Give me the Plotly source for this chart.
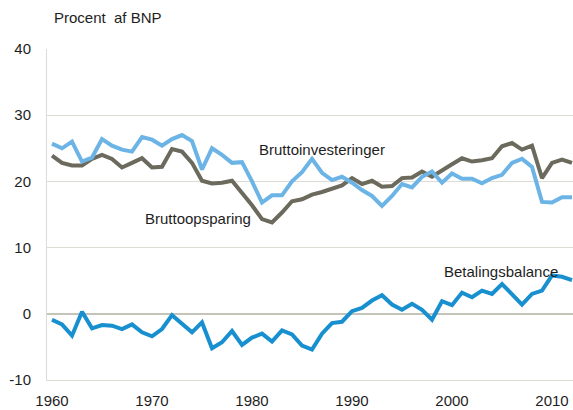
import plotly.graph_objects as go

years = list(range(1960, 2013))

bruttoinvesteringer = [
    25.7, 25.0, 26.0, 23.0, 23.6, 26.4, 25.4, 24.8, 24.5, 26.7,
    26.3, 25.4, 26.4, 27.0, 26.1, 21.8, 25.0, 24.0, 22.8, 22.9,
    20.0, 16.8, 17.9, 17.9, 20.0, 21.4, 23.4, 21.3, 20.2, 20.7,
    19.8, 18.7, 17.8, 16.3, 17.8, 19.6, 19.1, 20.7, 21.5, 19.8,
    21.2, 20.4, 20.4, 19.7, 20.5, 21.0, 22.8, 23.4, 22.2, 16.9,
    16.8, 17.6, 17.6,
]

bruttoopsparing = [
    23.9, 22.8, 22.4, 22.4, 23.4, 24.0, 23.4, 22.1, 22.8, 23.5,
    22.1, 22.2, 24.9, 24.5, 22.8, 20.1, 19.7, 19.8, 20.1, 18.3,
    16.4, 14.3, 13.8, 15.3, 17.0, 17.3, 18.0, 18.4, 18.9, 19.4,
    20.5, 19.6, 20.1, 19.2, 19.3, 20.5, 20.6, 21.5, 20.7, 21.7,
    22.6, 23.5, 23.0, 23.2, 23.5, 25.3, 25.8, 24.8, 25.4, 20.5,
    22.8, 23.3, 22.8,
]

betalingsbalance = [
    -0.9, -1.6, -3.3, 0.3, -2.2, -1.7, -1.8, -2.3, -1.6, -2.8,
    -3.4, -2.3, -0.2, -1.5, -2.8, -1.3, -5.2, -4.3, -2.6, -4.7,
    -3.6, -3.0, -4.2, -2.5, -3.1, -4.8, -5.4, -3.0, -1.4, -1.2,
    0.4, 0.9, 2.0, 2.8, 1.4, 0.6, 1.5, 0.6, -0.9, 1.9,
    1.3, 3.2, 2.5, 3.5, 3.0, 4.5, 3.0, 1.4, 3.0, 3.5,
    5.8, 5.6, 5.1,
]

x_ticks = [1960, 1970, 1980, 1990, 2000, 2010]
y_ticks = [-10, 0, 10, 20, 30, 40]

FONT = "Liberation Sans, Arial, sans-serif"
TXT = "#1e1e1e"

fig = go.Figure()
fig.add_trace(go.Scatter(x=years, y=bruttoopsparing, mode="lines",
                         line=dict(color="#6c6a5c", width=4), name="Bruttoopsparing",
                         cliponaxis=False))
fig.add_trace(go.Scatter(x=years, y=bruttoinvesteringer, mode="lines",
                         line=dict(color="#6db4e6", width=4), name="Bruttoinvesteringer",
                         cliponaxis=False))
fig.add_trace(go.Scatter(x=years, y=betalingsbalance, mode="lines",
                         line=dict(color="#1890d0", width=4), name="Betalingsbalance",
                         cliponaxis=False))

ann = dict(showarrow=False, font=dict(family=FONT, size=15, color=TXT),
           xref="x", yref="y")
fig.add_annotation(text="Bruttoinvesteringer", x=1987.0, y=24.8, **ann)
fig.add_annotation(text="Bruttoopsparing", x=1974.6, y=14.45, **ann)
fig.add_annotation(text="Betalingsbalance", x=2004.9, y=6.4, **ann)
fig.add_annotation(text="Procent  af BNP", x=1965.6, y=1.095, yanchor="middle",
                   showarrow=False, font=dict(family=FONT, size=15, color=TXT),
                   xref="x", yref="paper")

fig.update_layout(
    width=573, height=410,
    margin=dict(l=47, r=0, t=49, b=30),
    paper_bgcolor="white", plot_bgcolor="white",
    showlegend=False,
    font=dict(family=FONT, size=15, color=TXT),
    xaxis=dict(range=[1959.5, 2012.1], tickvals=x_ticks, ticktext=[str(v) for v in x_ticks],
               showgrid=False, zeroline=False, showline=True, linecolor="#dcdcd4",
               linewidth=1, ticks="", ticklabelstandoff=7,
               tickfont=dict(family=FONT, size=15, color=TXT)),
    yaxis=dict(range=[-10, 40], tickvals=y_ticks, ticktext=[str(v) for v in y_ticks],
               showgrid=True, gridcolor="#dcdcd4", gridwidth=1,
               zeroline=True, zerolinecolor="#c4c4b8", zerolinewidth=2,
               showline=True, linecolor="#dcdcd4", linewidth=1, ticks="",
               ticklabelstandoff=12,
               tickfont=dict(family=FONT, size=15, color=TXT)),
)

fig.write_html("out.html",
               config={"displayModeBar": False},
               post_script="document.body.style.margin='0px';"
                           "document.body.style.overflow='hidden';")
